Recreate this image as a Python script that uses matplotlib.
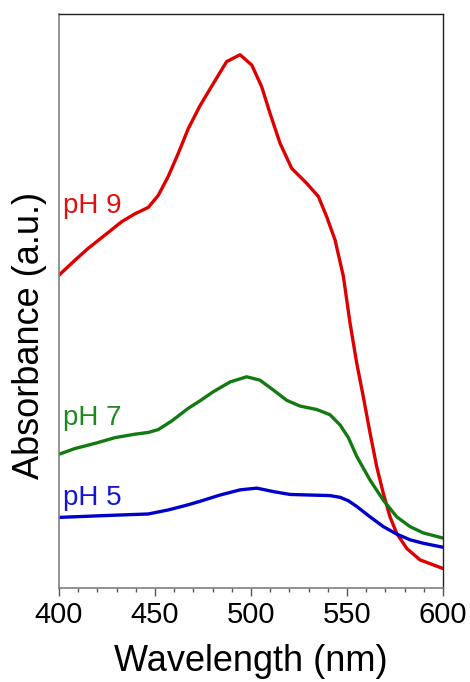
import matplotlib
matplotlib.use("Agg")
import matplotlib.pyplot as plt
from matplotlib.ticker import MultipleLocator

plt.rcParams['font.family'] = ['Liberation Sans', 'DejaVu Sans']

# UV-vis spectra (absorbance in arbitrary units)
wl_ph9 = [400.0, 408.3, 415.3, 424.0, 432.6, 439.6, 446.5, 451.7, 456.9, 462.1,
          467.3, 473.4, 480.4, 487.3, 494.3, 500.4, 505.6, 509.9, 515.1, 521.2,
          529.0, 535.1, 539.4, 543.8, 548.1, 551.6, 555.1, 558.5, 562.0, 565.5,
          568.9, 572.4, 575.9, 581.1, 588.0, 600.0]
abs_ph9 = [0.545, 0.571, 0.592, 0.615, 0.638, 0.652, 0.663, 0.684, 0.717, 0.757,
           0.800, 0.840, 0.879, 0.917, 0.929, 0.911, 0.873, 0.827, 0.775, 0.731,
           0.705, 0.682, 0.647, 0.606, 0.543, 0.461, 0.391, 0.333, 0.270, 0.211,
           0.165, 0.124, 0.095, 0.069, 0.049, 0.034]

wl_ph7 = [400.0, 408.3, 418.8, 429.2, 439.6, 446.5, 451.7, 458.7, 467.3, 473.4,
          480.4, 489.1, 497.8, 504.7, 511.6, 518.6, 525.5, 534.2, 541.1, 546.4,
          550.7, 555.1, 562.0, 568.9, 575.9, 582.8, 589.7, 600.0]
abs_ph7 = [0.233, 0.243, 0.252, 0.262, 0.268, 0.271, 0.276, 0.291, 0.313, 0.326,
           0.342, 0.359, 0.368, 0.362, 0.345, 0.327, 0.317, 0.311, 0.302, 0.284,
           0.262, 0.229, 0.188, 0.153, 0.124, 0.107, 0.096, 0.087]

wl_ph5 = [400.0, 422.2, 446.5, 456.9, 467.3, 473.4, 483.9, 494.3, 503.0, 511.6,
          520.3, 530.7, 541.1, 546.4, 550.7, 555.1, 562.0, 568.9, 575.9, 582.8,
          589.7, 600.0]
abs_ph5 = [0.123, 0.126, 0.129, 0.136, 0.145, 0.151, 0.162, 0.171, 0.174, 0.168,
           0.163, 0.162, 0.161, 0.158, 0.152, 0.142, 0.124, 0.107, 0.094, 0.084,
           0.078, 0.071]

labels = ["pH 9", "pH 7", "pH 5"]
line_colors = ["#dd0000", "#137a13", "#0000cc"]
text_colors = ["#e01010", "#1e8a1e", "#1515d0"]

fig = plt.figure(figsize=(4.70, 6.82), dpi=100)
ax = fig.add_axes([0.1255, 0.1378, 0.8171, 0.8417])

series = [(wl_ph9, abs_ph9), (wl_ph7, abs_ph7), (wl_ph5, abs_ph5)]
for (wl, a), c in zip(series, line_colors):
    ax.plot(wl, a, color=c, lw=2.4, solid_joinstyle='round', solid_capstyle='round')

ax.set_xlim(400, 600)
ax.set_ylim(0, 1.0)

# curve labels placed beside the left end of each spectrum (baseline positions)
label_y = [0.653, 0.284, 0.145]
for t, y, c in zip(labels, label_y, text_colors):
    ax.text(402.0, y, t, color=c, fontsize=20, ha='left', va='baseline')

ax.xaxis.set_major_locator(MultipleLocator(50))
ax.xaxis.set_minor_locator(MultipleLocator(10))
ax.tick_params(axis='x', which='major', direction='out', length=6, width=1,
               labelsize=21, pad=3, color='#555555')
ax.tick_params(axis='x', which='minor', direction='out', length=3, width=1,
               color='#555555')
ax.set_yticks([])

for side in ['left', 'bottom']:
    ax.spines[side].set_color('#808080')
    ax.spines[side].set_linewidth(1.2)
for side in ['top', 'right']:
    ax.spines[side].set_color('#222222')
    ax.spines[side].set_linewidth(1.0)

ax.set_xlabel("Wavelength (nm)", fontsize=26, labelpad=11)
ax.set_ylabel("Absorbance (a.u.)", fontsize=26)
ax.yaxis.set_label_coords(-0.032, 0.44)

fig.savefig("out.png", dpi=100)
